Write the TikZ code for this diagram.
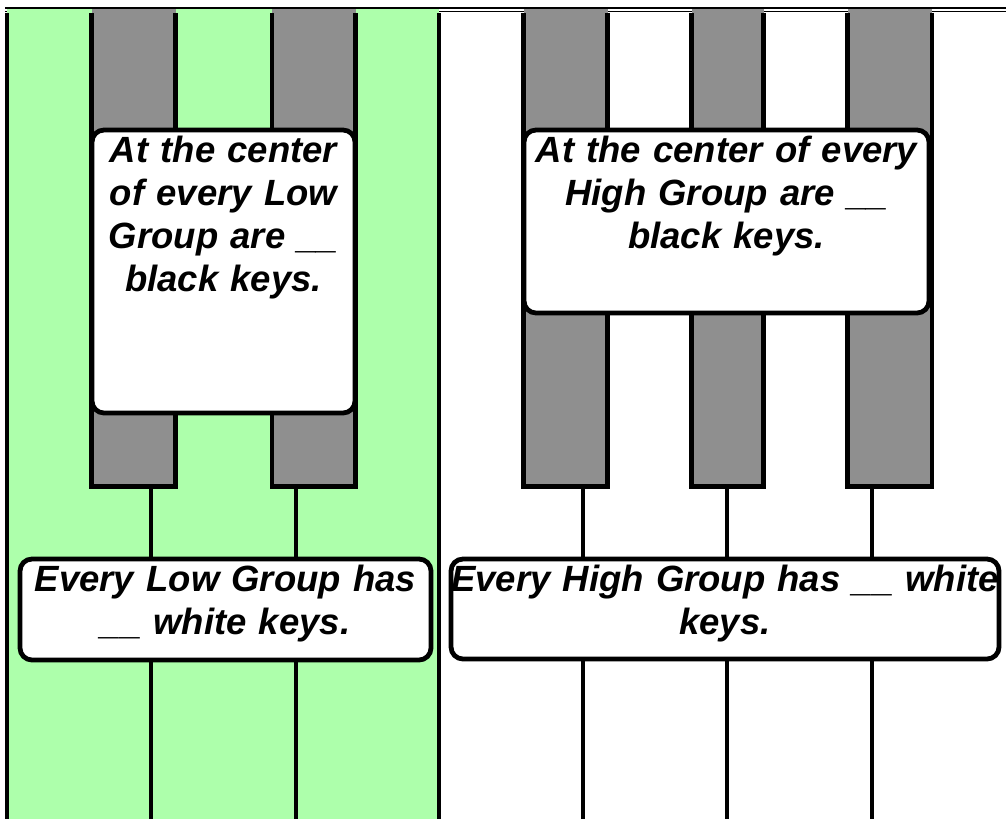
\documentclass[tikz,border=0pt]{standalone}
\usepackage{fontspec}
\setmainfont{Liberation Sans}
\usetikzlibrary{calc}
\definecolor{lowgreen}{RGB}{173,255,171}
\definecolor{keygray}{RGB}{143,143,143}
\tikzset{
  keyline/.style={line width=4.8pt},
  blackkey/.style={line width=4.8pt},
  qbox/.style={draw, fill=white, line width=4.8pt, rounded corners=12pt, inner sep=0pt},
  qtext/.style={font=\fontsize{36.5}{43}\selectfont\bfseries\itshape, text width=600pt, align=center, inner sep=0pt, anchor=base},
}

\begin{document}
\begin{tikzpicture}[x=1pt, y=-1pt]
\useasboundingbox (0,0) rectangle (1006,819);
% top rails and the low group
\draw[line width=1.3pt] (5,11.5) -- (1006,11.5);
\fill[lowgreen] (7,9.3) rectangle (439,819);
\draw[line width=2.8pt] (5,8) -- (1006,8);
% white keys
\foreach \x in {7,151,296,439,583,727,872}
  \draw[keyline] (\x,13) -- (\x,819);
% black keys
\foreach \l/\r in {91.7/175.5, 272/355.5, 523.5/607.5, 691.7/763.8, 847.5/932}{
  \fill[keygray] (\l,9.3) rectangle (\r,486.5);
  \draw[blackkey] (\l,13) -- (\l,486.5) -- (\r,486.5) -- (\r,13);
}
% question boxes
\node[qbox, minimum width=263pt, minimum height=283pt] (lowblack) at (223.5,271.5) {};
\node[qtext] (lowblacktxt) at ($(lowblack.north)+(0,35)$) {At the center\\ of every Low\\ Group are \_\_\\ black keys.};
\node[qbox, minimum width=405pt, minimum height=183pt] (highblack) at (726.5,221.5) {};
\node[qtext] (highblacktxt) at ($(highblack.north)+(0,35)$) {At the center of every\\ High Group are \_\_\\ black keys.};
\node[qbox, minimum width=411pt, minimum height=101pt] (lowwhite) at (225.5,609.5) {};
\node[qtext] (lowwhitetxt) at ($(lowwhite.north)+(0,35)$) {Every Low Group has\\ \_\_ white keys.};
\node[qbox, minimum width=548pt, minimum height=100pt] (highwhite) at (725,609) {};
\node[qtext] (highwhitetxt) at ($(highwhite.north)+(0,35)$) {Every High Group has \_\_ white\\ keys.};
\end{tikzpicture}
\end{document}
